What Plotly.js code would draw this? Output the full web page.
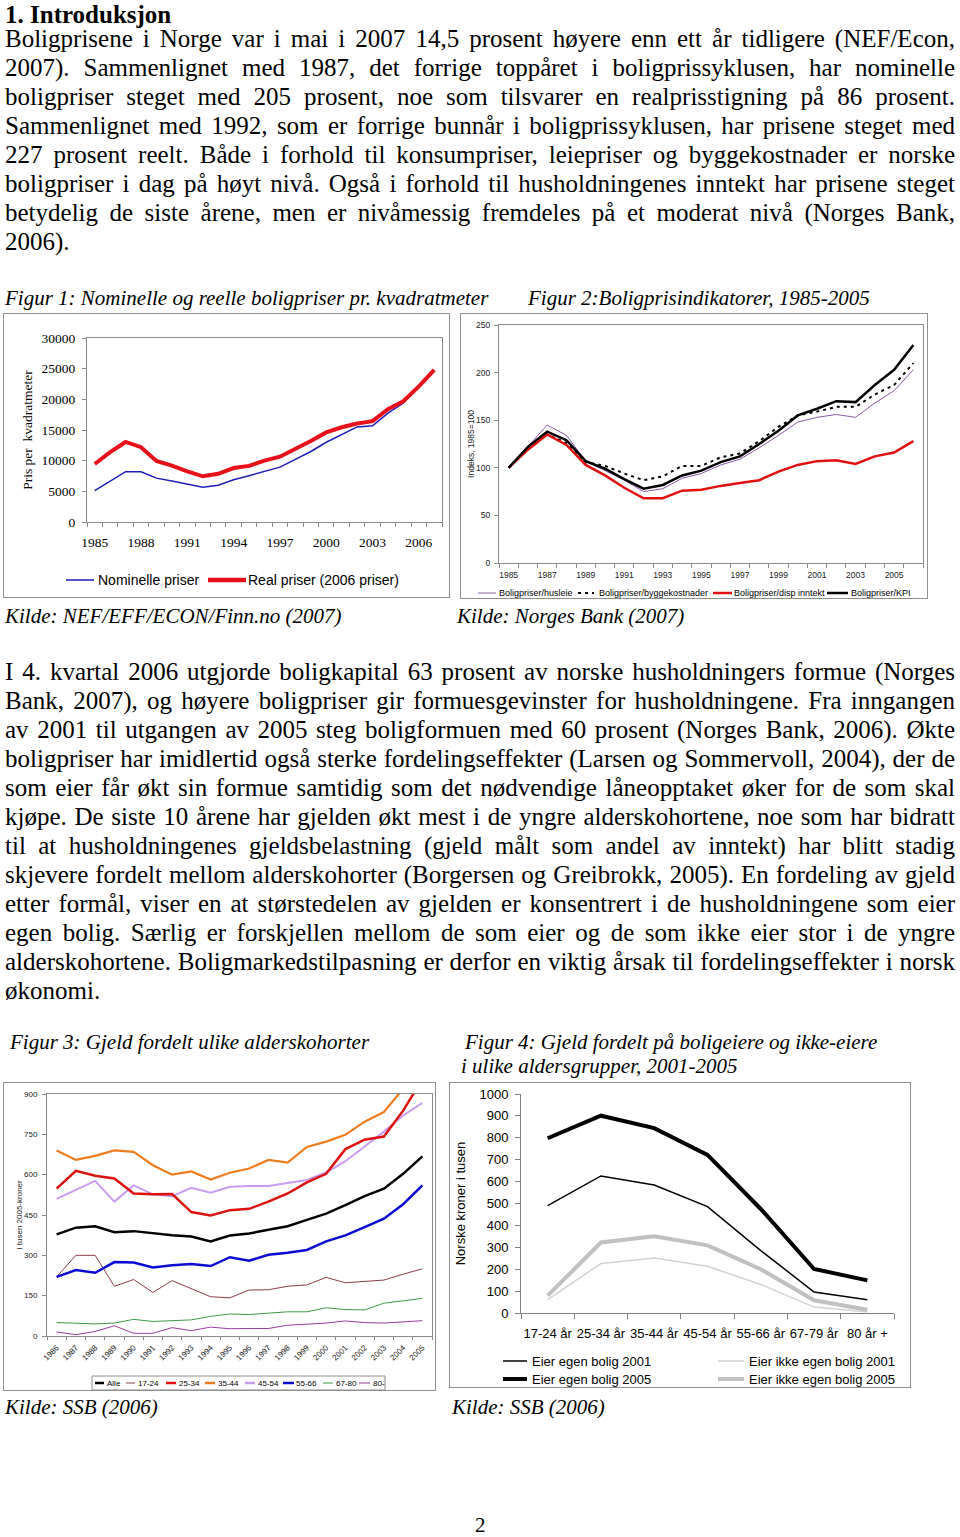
<!DOCTYPE html>
<html><head><meta charset="utf-8">
<script src="https://cdn.plot.ly/plotly-3.0.1.min.js"></script>
<style>
html,body{margin:0;padding:0;background:#fff;}
#page{position:relative;width:960px;height:1537px;overflow:hidden;background:#fff;}
.ln{position:absolute;white-space:pre;font-family:"Liberation Serif","Times New Roman",serif;font-size:25px;line-height:25px;color:#000;}
.cap{position:absolute;white-space:pre;font-family:"Liberation Serif","Times New Roman",serif;font-style:italic;font-size:21px;line-height:21px;color:#000;}
.frame{position:absolute;border:1px solid #8f8f8f;box-sizing:border-box;pointer-events:none;}
.chart{position:absolute;}
</style></head>
<body><div id="page"></div>
<script>
// ---------------- TEXT ----------------
const headingText = '1. Introduksjon';
const para1Lines = [
 'Boligprisene i Norge var i mai i 2007 14,5 prosent høyere enn ett år tidligere (NEF/Econ,',
 '2007). Sammenlignet med 1987, det forrige toppåret i boligprissyklusen, har nominelle',
 'boligpriser steget med 205 prosent, noe som tilsvarer en realprisstigning på 86 prosent.',
 'Sammenlignet med 1992, som er forrige bunnår i boligprissyklusen, har prisene steget med',
 '227 prosent reelt. Både i forhold til konsumpriser, leiepriser og byggekostnader er norske',
 'boligpriser i dag på høyt nivå. Også i forhold til husholdningenes inntekt har prisene steget',
 'betydelig de siste årene, men er nivåmessig fremdeles på et moderat nivå (Norges Bank,',
 '2006).'
];
const para2Lines = [
 'I 4. kvartal 2006 utgjorde boligkapital 63 prosent av norske husholdningers formue (Norges',
 'Bank, 2007), og høyere boligpriser gir formuesgevinster for husholdningene. Fra inngangen',
 'av 2001 til utgangen av 2005 steg boligformuen med 60 prosent (Norges Bank, 2006). Økte',
 'boligpriser har imidlertid også sterke fordelingseffekter (Larsen og Sommervoll, 2004), der de',
 'som eier får økt sin formue samtidig som det nødvendige låneopptaket øker for de som skal',
 'kjøpe. De siste 10 årene har gjelden økt mest i de yngre alderskohortene, noe som har bidratt',
 'til at husholdningenes gjeldsbelastning (gjeld målt som andel av inntekt) har blitt stadig',
 'skjevere fordelt mellom alderskohorter (Borgersen og Greibrokk, 2005). En fordeling av gjeld',
 'etter formål, viser en at størstedelen av gjelden er konsentrert i de husholdningene som eier',
 'egen bolig. Særlig er forskjellen mellom de som eier og de som ikke eier stor i de yngre',
 'alderskohortene. Boligmarkedstilpasning er derfor en viktig årsak til fordelingseffekter i norsk',
 'økonomi.'
];
const fig1Caption = 'Figur 1: Nominelle og reelle boligpriser pr. kvadratmeter';
const fig2Caption = 'Figur 2:Boligprisindikatorer, 1985-2005';
const fig1Source = 'Kilde: NEF/EFF/ECON/Finn.no (2007)';
const fig2Source = 'Kilde: Norges Bank (2007)';
const fig3Caption = 'Figur 3: Gjeld fordelt ulike alderskohorter';
const fig4CaptionLines = ['Figur 4: Gjeld fordelt på boligeiere og ikke-eiere', 'i ulike aldersgrupper, 2001-2005'];
const fig3Source = 'Kilde: SSB (2006)';
const fig4Source = 'Kilde: SSB (2006)';
const pageNumber = '2';

// ---------------- FIGURE 1 DATA ----------------
const fig1Years = [1985,1986,1987,1988,1989,1990,1991,1992,1993,1994,1995,1996,1997,1998,1999,2000,2001,2002,2003,2004,2005,2006,2007];
const fig1Nominal = [5100,6700,8200,8200,7150,6700,6150,5650,6000,6900,7550,8200,8950,10200,11500,13000,14300,15500,15700,17750,19400,22000,24700];
const fig1Real = [9450,11400,13050,12200,9950,9200,8250,7450,7850,8800,9150,10000,10650,11900,13200,14600,15450,16050,16450,18400,19700,22100,24800];
const fig1TickYears = [1985,1988,1991,1994,1997,2000,2003,2006];
const fig1Names = ['Nominelle priser','Real priser (2006 priser)'];
const fig1YTitle = 'Pris per  kvadratmeter';

// ---------------- FIGURE 2 DATA ----------------
const fig2Years = [1985,1986,1987,1988,1989,1990,1991,1992,1993,1994,1995,1996,1997,1998,1999,2000,2001,2002,2003,2004,2005,2006];
const fig2Husleie = [100,123,145,134,107,97,87,75,78,89,94,103,109,121,134,148,153,156,153,168,181,203];
const fig2Bygg = [100,121,135,126,106,102,94,87,91,102,102,111,115,128,143,155,159,164,164,177,187,210];
const fig2Inntekt = [100,119,135,124,103,92,79,68,68,76,77,81,84,87,96,103,107,108,104,112,116,128];
const fig2KPI = [100,122,138,129,107,99,88,78,82,92,97,106,112,125,139,155,162,170,169,187,203,229];
const fig2TickYears = [1985,1987,1989,1991,1993,1995,1997,1999,2001,2003,2005];
const fig2Names = ['Boligpriser/husleie','Boligpriser/byggekostnader','Boligpriser/disp inntekt','Boligpriser/KPI'];
const fig2YTitle = 'Indeks, 1985=100';

// ---------------- FIGURE 3 DATA ----------------
const fig3Years = [1986,1987,1988,1989,1990,1991,1992,1993,1994,1995,1996,1997,1998,1999,2000,2001,2002,2003,2004,2005];
const fig3Alle = [378,403,408,386,390,382,375,370,352,374,381,395,408,432,455,487,520,548,603,668];
const fig3Age17_24 = [220,300,300,185,210,162,206,177,146,142,171,172,185,190,218,198,202,208,230,250];
const fig3Age25_34 = [548,614,596,586,530,527,528,461,448,468,473,500,530,571,603,695,730,742,838,955];
const fig3Age35_44 = [690,655,670,690,685,635,600,612,582,607,623,655,645,703,723,748,797,833,920,1000];
const fig3Age45_54 = [510,545,577,500,560,527,520,551,533,555,558,558,568,580,608,650,705,760,820,867];
const fig3Age55_66 = [220,245,235,275,273,255,263,268,260,293,280,302,310,320,352,374,405,436,490,560];
const fig3Age67_80 = [50,48,45,48,62,54,57,60,73,82,80,85,90,90,105,98,97,122,132,140];
const fig3Age80 = [15,5,17,38,10,10,31,20,33,27,28,28,40,45,48,56,50,48,53,57];
const fig3Names = ['Alle','17-24','25-34','35-44','45-54','55-66','67-80','80-'];
const fig3YTitle = 'I tusen 2005-kroner';

// ---------------- FIGURE 4 DATA ----------------
const fig4Groups = ['17-24 år','25-34 år','35-44 år','45-54 år','55-66 år','67-79 år','80 år +'];
const fig4Eier2001 = [490,626,584,486,285,96,61];
const fig4IkkeEier2001 = [61,226,251,213,130,27,5];
const fig4Eier2005 = [798,901,844,722,475,201,149];
const fig4IkkeEier2005 = [79,322,350,309,200,58,15];
const fig4Names = ['Eier egen bolig 2001','Eier ikke egen bolig 2001','Eier egen bolig 2005','Eier ikke egen bolig 2005'];
const fig4YTitle = 'Norske kroner i tusen';

// ---------------- RENDERING ----------------
const SERIF = 'Liberation Serif, Times New Roman, serif';
const SANS = 'Liberation Sans, Arial, sans-serif';
const page = document.getElementById('page');

function addText(text, x, baseline, cls, opts) {
  opts = opts || {};
  const d = document.createElement('div');
  d.className = cls;
  d.textContent = text;
  const fs = cls === 'ln' ? 25 : 21;
  d.style.left = x + 'px';
  d.style.top = (baseline - fs * 0.837) + 'px';
  if (opts.bold) { d.style.fontWeight = 'bold'; d.style.lineHeight = '21px'; d.style.top = (baseline - 18.9) + 'px'; }
  page.appendChild(d);
  if (opts.justifyWidth) {
    const w = d.getBoundingClientRect().width;
    const n = (text.match(/ /g) || []).length;
    if (n) d.style.wordSpacing = ((opts.justifyWidth - w) / n) + 'px';
  }
}

addText(headingText, 5, 22.5, 'ln', {bold: true});
para1Lines.forEach((t, i) => addText(t, 5, 47 + 29 * i, 'ln', i < para1Lines.length - 1 ? {justifyWidth: 950} : {}));
para2Lines.forEach((t, i) => addText(t, 5, 680 + 29 * i, 'ln', i < para2Lines.length - 1 ? {justifyWidth: 950} : {}));
addText(fig1Caption, 5, 306, 'cap');
addText(fig2Caption, 528, 306, 'cap');
addText(fig1Source, 5, 624, 'cap');
addText(fig2Source, 457, 624, 'cap');
addText(fig3Caption, 10, 1050, 'cap');
addText(fig4CaptionLines[0], 465, 1050, 'cap');
addText(fig4CaptionLines[1], 461, 1074, 'cap');
addText(fig3Source, 5, 1415, 'cap');
addText(fig4Source, 452, 1415, 'cap');
(function(){ const d = document.createElement('div'); d.className='ln'; d.textContent = pageNumber;
  d.style.fontSize='21px'; d.style.lineHeight='18px'; d.style.left='475px'; d.style.top=(1532-16)+'px'; page.appendChild(d); })();

function toPaper(P, X, Y) { return [(X - P.l) / (P.r - P.l), (P.b - Y) / (P.b - P.t)]; }

function drawChart(box, P, traces, xaxis, yaxis, legend, extraShapes) {
  const w = box.x1 - box.x0, h = box.y1 - box.y0;
  const div = document.createElement('div');
  div.className = 'chart';
  div.style.left = box.x0 + 'px'; div.style.top = box.y0 + 'px';
  div.style.width = w + 'px'; div.style.height = h + 'px';
  page.appendChild(div);
  const fr = document.createElement('div');
  fr.className = 'frame';
  fr.style.left = box.x0 + 'px'; fr.style.top = box.y0 + 'px';
  fr.style.width = w + 'px'; fr.style.height = h + 'px';
  page.appendChild(fr);
  const shapes = [], annotations = [];
  (extraShapes || []).forEach(s => {
    const a = toPaper(P, s.X0, s.Y0), b = toPaper(P, s.X1, s.Y1);
    shapes.push({type: 'rect', xref: 'paper', yref: 'paper', x0: a[0], y0: a[1], x1: b[0], y1: b[1], line: {color: s.color, width: s.width}, fillcolor: 'rgba(0,0,0,0)'});
  });
  legend.items.forEach(it => {
    const y = it.y !== undefined ? it.y : legend.y;
    const a = toPaper(P, it.x0, y), b = toPaper(P, it.x1, y), t = toPaper(P, it.tx, y);
    shapes.push({type: 'line', xref: 'paper', yref: 'paper', x0: a[0], x1: b[0], y0: a[1], y1: a[1],
      line: {color: it.color, width: it.width, dash: it.dash || 'solid'}});
    annotations.push({xref: 'paper', yref: 'paper', x: t[0], y: t[1], xanchor: 'left', yanchor: 'middle',
      text: it.name, showarrow: false, borderpad: 0, font: legend.font});
  });
  const layout = {
    width: w, height: h,
    margin: {l: P.l - box.x0, r: box.x1 - P.r, t: P.t - box.y0, b: box.y1 - P.b, pad: 0},
    paper_bgcolor: 'rgba(0,0,0,0)', plot_bgcolor: '#fff',
    showlegend: false, xaxis: xaxis, yaxis: yaxis, shapes: shapes, annotations: annotations
  };
  Plotly.newPlot(div, traces, layout, {staticPlot: true, displayModeBar: false});
}

// ---- Figure 1 ----
(function(){
  const box = {x0: 3, y0: 313, x1: 450, y1: 598};
  const P = {l: 87, t: 338, r: 442, b: 522};
  const f = {family: SERIF, size: 13.5, color: '#000'};
  const traces = [
    {x: fig1Years, y: fig1Nominal, mode: 'lines', name: fig1Names[0], line: {color: '#1e1eb8', width: 1.5}},
    {x: fig1Years, y: fig1Real, mode: 'lines', name: fig1Names[1], line: {color: '#e8101a', width: 4}}
  ];
  const xaxis = {range: [1984.5, 2007.5], tickmode: 'array', tickvals: fig1TickYears, ticktext: fig1TickYears.map(String),
    ticks: '', showline: true, linecolor: '#8a8a8a', linewidth: 1, mirror: true, showgrid: false, zeroline: false,
    tickfont: f, ticklabelstandoff: 8,
    minor: {tickmode: 'linear', tick0: 1984.5, dtick: 1, ticks: 'outside', ticklen: 4, tickcolor: '#8a8a8a', showgrid: false}};
  const yaxis = {range: [0, 30000], dtick: 5000, tickformat: 'd', ticks: 'outside', ticklen: 4, tickcolor: '#8a8a8a', showline: true,
    linecolor: '#8a8a8a', mirror: true, showgrid: false, zeroline: false, tickfont: f, ticklabelstandoff: 4,
    title: {text: fig1YTitle, font: f, standoff: 5}};
  const legend = {y: 580, font: {family: SANS, size: 14, color: '#000'}, items: [
    {name: fig1Names[0], color: '#1e1eb8', width: 1.5, x0: 66, x1: 94, tx: 97},
    {name: fig1Names[1], color: '#e8101a', width: 4.5, x0: 208, x1: 246, tx: 247}
  ]};
  drawChart(box, P, traces, xaxis, yaxis, legend);
})();

// ---- Figure 2 ----
(function(){
  const box = {x0: 460, y0: 313, x1: 928, y1: 599};
  const P = {l: 499, t: 325, r: 923, b: 563};
  const f = {family: SANS, size: 8.5, color: '#222'};
  const colors = ['#8a5aa8', '#000000', '#e01010', '#000000'];
  const widths = [1, 2, 2.5, 2.5];
  const dashes = ['solid', '3px,4px', 'solid', 'solid'];
  const series = [fig2Husleie, fig2Bygg, fig2Inntekt, fig2KPI];
  const traces = series.map((s, i) => ({x: fig2Years, y: s, mode: 'lines', name: fig2Names[i],
    line: {color: colors[i], width: widths[i], dash: dashes[i]}}));
  const xaxis = {range: [1984.5, 2006.5], tickmode: 'array', tickvals: fig2TickYears, ticktext: fig2TickYears.map(String),
    ticks: '', showline: true, linecolor: '#8a8a8a', linewidth: 1, mirror: true, showgrid: false, zeroline: false,
    tickfont: f, ticklabelstandoff: 4,
    minor: {tickmode: 'linear', tick0: 1984.5, dtick: 1, ticks: 'outside', ticklen: 4, tickcolor: '#8a8a8a', showgrid: false}};
  const yaxis = {range: [0, 250], dtick: 50, ticks: 'outside', ticklen: 4, tickcolor: '#8a8a8a', showline: true,
    linecolor: '#8a8a8a', mirror: true, showgrid: false, zeroline: false, tickfont: f, ticklabelstandoff: 2,
    title: {text: fig2YTitle, font: f, standoff: 0}};
  const legend = {y: 593, font: {family: SANS, size: 9, color: '#000'}, items: [
    {name: fig2Names[0], color: colors[0], width: 1, x0: 478, x1: 496, tx: 498},
    {name: fig2Names[1], color: colors[1], width: 2, dash: '3px,4px', x0: 578, x1: 594, tx: 598},
    {name: fig2Names[2], color: colors[2], width: 2.5, x0: 713, x1: 732, tx: 733},
    {name: fig2Names[3], color: colors[3], width: 2.5, x0: 827, x1: 848, tx: 850}
  ]};
  drawChart(box, P, traces, xaxis, yaxis, legend);
})();

// ---- Figure 3 ----
(function(){
  const box = {x0: 3, y0: 1082, x1: 436, y1: 1391};
  const P = {l: 47, t: 1094, r: 432, b: 1336};
  const f = {family: SANS, size: 8, color: '#222'};
  const series = [fig3Alle, fig3Age17_24, fig3Age25_34, fig3Age35_44, fig3Age45_54, fig3Age55_66, fig3Age67_80, fig3Age80];
  const colors = ['#000000', '#8c3c46', '#dd1010', '#f07c1e', '#c89cf0', '#0a0ad2', '#3c9a46', '#9a3c9e'];
  const widths = [2.5, 1, 2.5, 2.2, 2, 2.5, 1, 1];
  const order = [7, 6, 1, 0, 5, 4, 2, 3];
  const traces = order.map(i => ({x: fig3Years, y: series[i], mode: 'lines', name: fig3Names[i],
    line: {color: colors[i], width: widths[i]}}));
  const xaxis = {range: [1985.5, 2005.5], tickmode: 'array', tickvals: fig3Years, ticktext: fig3Years.map(String),
    tickangle: -45, ticks: '', showline: true, linecolor: '#8a8a8a', linewidth: 1, mirror: true, showgrid: false,
    zeroline: false, tickfont: f, ticklabelstandoff: 3,
    minor: {tickmode: 'linear', tick0: 1985.5, dtick: 1, ticks: 'outside', ticklen: 3, tickcolor: '#8a8a8a', showgrid: false}};
  const yaxis = {range: [0, 900], dtick: 150, ticks: 'outside', ticklen: 4, tickcolor: '#8a8a8a', showline: true,
    linecolor: '#8a8a8a', mirror: true, showgrid: false, zeroline: false, tickfont: f, ticklabelstandoff: 3,
    title: {text: fig3YTitle, font: f, standoff: 0}};
  const lx = [[95, 104, 106], [126, 135, 137], [166, 176, 178], [205, 215, 217], [245, 255, 257], [283, 294, 295], [323, 333, 335], [359, 370, 372]];
  const legend = {y: 1383, font: {family: SANS, size: 8, color: '#000'},
    items: fig3Names.map((n, i) => ({name: n, color: colors[i], width: widths[i] > 1 ? 2.5 : 1, x0: lx[i][0], x1: lx[i][1], tx: lx[i][2]}))};
  drawChart(box, P, traces, xaxis, yaxis, legend, [{X0: 92, Y0: 1376, X1: 385, Y1: 1390, color: '#8a8a8a', width: 1}]);
})();

// ---- Figure 4 ----
(function(){
  const box = {x0: 449, y0: 1082, x1: 911, y1: 1388};
  const P = {l: 521, t: 1094, r: 894, b: 1313};
  const f = {family: SANS, size: 13, color: '#000'};
  const idx = fig4Groups.map((g, i) => i);
  const traces = [
    {x: idx, y: fig4IkkeEier2001, mode: 'lines', name: fig4Names[1], line: {color: '#d2d2d2', width: 1.5}},
    {x: idx, y: fig4IkkeEier2005, mode: 'lines', name: fig4Names[3], line: {color: '#c0c0c0', width: 4}},
    {x: idx, y: fig4Eier2001, mode: 'lines', name: fig4Names[0], line: {color: '#000', width: 1.5}},
    {x: idx, y: fig4Eier2005, mode: 'lines', name: fig4Names[2], line: {color: '#000', width: 4}}
  ];
  const xaxis = {range: [-0.5, 6.5], tickmode: 'array', tickvals: idx, ticktext: fig4Groups,
    ticks: '', showline: true, linecolor: '#808080', linewidth: 1, showgrid: false, zeroline: false,
    tickfont: f, ticklabelstandoff: 8,
    minor: {tickmode: 'linear', tick0: -0.5, dtick: 1, ticks: 'outside', ticklen: 5, tickcolor: '#808080', showgrid: false}};
  const yaxis = {range: [0, 1000], dtick: 100, ticks: 'outside', ticklen: 5, tickcolor: '#808080', showline: true,
    linecolor: '#808080', showgrid: false, zeroline: false, tickfont: f, ticklabelstandoff: 4,
    title: {text: fig4YTitle, font: f, standoff: 10}};
  const legend = {font: {family: SANS, size: 13, color: '#000'}, items: [
    {name: fig4Names[0], color: '#000', width: 1.5, x0: 503, x1: 527, tx: 531, y: 1361},
    {name: fig4Names[2], color: '#000', width: 4, x0: 503, x1: 527, tx: 531, y: 1379},
    {name: fig4Names[1], color: '#d2d2d2', width: 1.5, x0: 718, x1: 744, tx: 748, y: 1361},
    {name: fig4Names[3], color: '#c0c0c0', width: 4, x0: 718, x1: 744, tx: 748, y: 1379}
  ]};
  drawChart(box, P, traces, xaxis, yaxis, legend);
})();
</script>
</body></html>
